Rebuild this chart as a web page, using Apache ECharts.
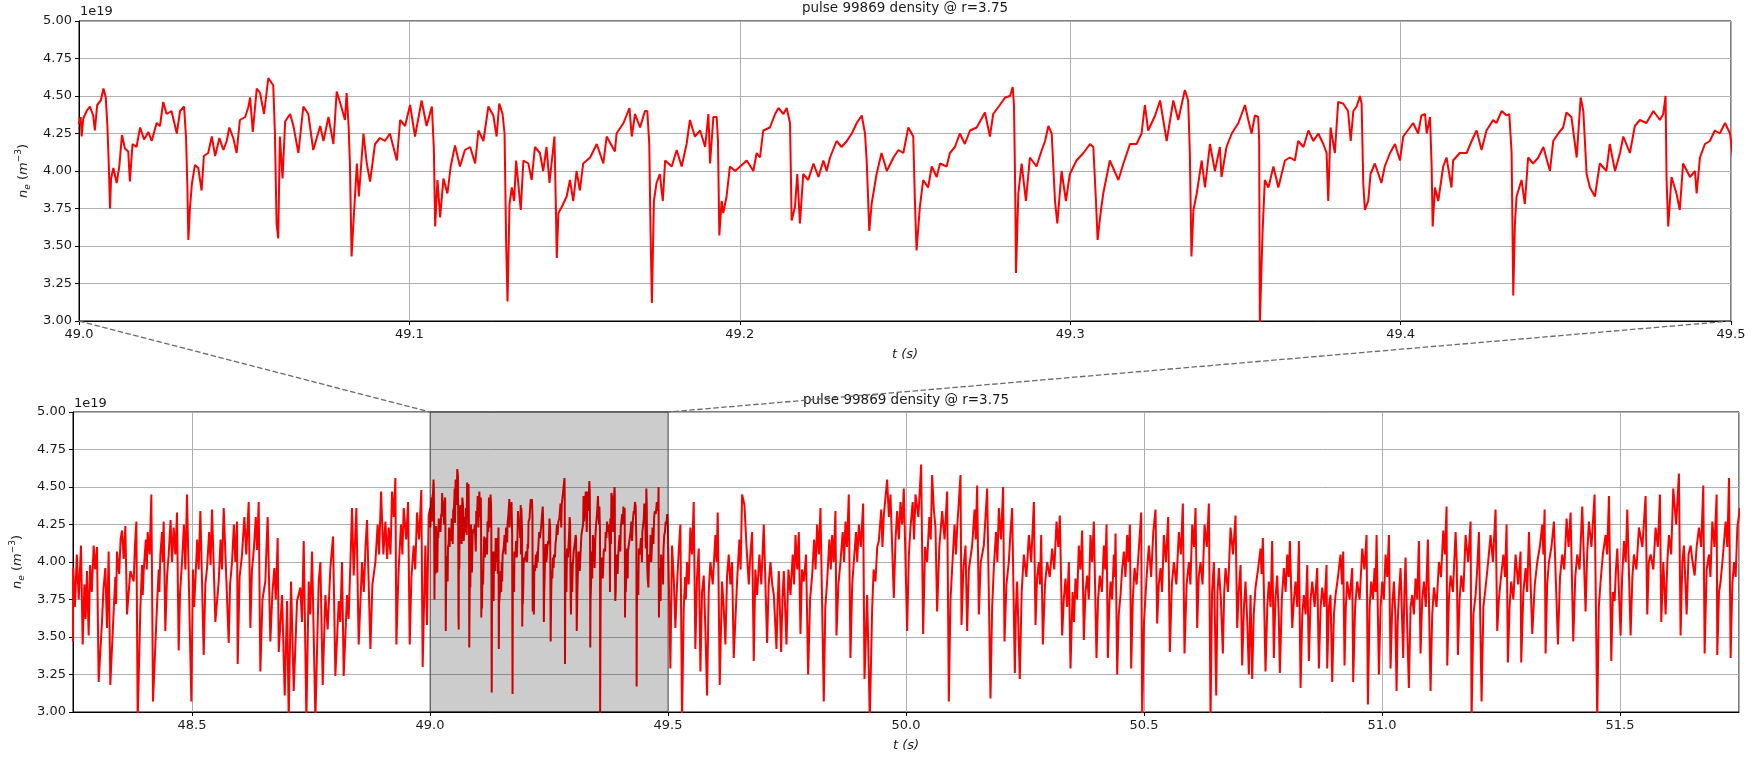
<!DOCTYPE html>
<html><head><meta charset="utf-8">
<script src="https://cdn.jsdelivr.net/npm/echarts@6/dist/echarts.min.js"></script>
<style>html,body{margin:0;padding:0;background:#fff}#c{width:1757px;height:758px}</style>
</head><body><div id="c"></div>
<script>
// ---- data: [t (s), n_e (1e19 m^-3)] ----
const segA = [[48.2501,3.47],[48.2505,3.96],[48.2540,3.70],[48.2580,4.05],[48.2620,3.75],[48.2668,4.11],[48.2703,3.45],[48.2740,3.85],[48.2765,3.62],[48.2794,3.94],[48.2829,3.51],[48.2860,3.98],[48.2895,3.80],[48.2934,4.11],[48.2965,3.95],[48.3004,4.10],[48.3039,3.20],[48.3109,3.60],[48.3140,3.82],[48.3179,3.96],[48.3214,3.56],[48.3249,4.07],[48.3284,3.18],[48.3354,3.67],[48.3390,3.90],[48.3405,3.72],[48.3424,4.07],[48.3470,3.92],[48.3500,4.15],[48.3530,4.21],[48.3565,4.02],[48.3600,4.24],[48.3635,3.65],[48.3705,3.94],[48.3775,3.87],[48.3800,4.10],[48.3831,4.27],[48.3859,2.95],[48.3915,3.69],[48.3950,3.98],[48.3965,3.78],[48.3985,3.94],[48.4030,4.15],[48.4050,3.95],[48.4069,4.20],[48.4110,4.05],[48.4146,4.45],[48.4181,3.07],[48.4265,3.71],[48.4300,3.95],[48.4315,3.80],[48.4335,4.05],[48.4370,4.20],[48.4385,4.00],[48.4405,4.27],[48.4440,3.54],[48.4475,3.90],[48.4510,4.05],[48.4550,4.28],[48.4580,4.00],[48.4615,4.23],[48.4650,4.05],[48.4685,4.33],[48.4720,3.41],[48.4750,3.80],[48.4790,4.00],[48.4830,4.25],[48.4860,3.95],[48.4895,4.45],[48.4986,3.07],[48.5020,3.95],[48.5045,3.70],[48.5070,3.87],[48.5110,4.15],[48.5140,3.95],[48.5176,4.34],[48.5246,3.38],[48.5280,3.85],[48.5316,3.96],[48.5360,4.20],[48.5390,3.98],[48.5421,4.35],[48.5491,3.60],[48.5561,3.87],[48.5600,4.15],[48.5630,3.95],[48.5666,4.36],[48.5771,3.46],[48.5800,3.85],[48.5841,4.00],[48.5880,4.25],[48.5910,4.00],[48.5946,4.27],[48.5960,3.32],[48.6000,3.90],[48.6051,4.05],[48.6100,4.30],[48.6140,4.05],[48.6191,4.40],[48.6226,3.56],[48.6260,3.95],[48.6296,4.07],[48.6340,4.30],[48.6365,4.08],[48.6401,4.40],[48.6436,3.27],[48.6480,3.75],[48.6541,3.87],[48.6565,4.10],[48.6590,4.30],[48.6646,3.47],[48.6690,3.80],[48.6730,3.96],[48.6760,3.75],[48.6800,4.16],[48.6822,3.40],[48.6892,3.78],[48.6948,3.11],[48.6997,3.74],[48.7032,2.95],[48.7081,3.87],[48.7137,3.14],[48.7207,3.74],[48.7277,3.83],[48.7310,3.60],[48.7347,4.14],[48.7403,2.95],[48.7452,3.87],[48.7485,3.65],[48.7522,4.07],[48.7592,2.95],[48.7662,3.87],[48.7697,4.00],[48.7746,3.18],[48.7802,3.78],[48.7850,3.55],[48.7907,3.96],[48.7963,4.17],[48.8012,3.24],[48.8082,3.74],[48.8115,3.60],[48.8152,4.00],[48.8187,3.24],[48.8257,3.78],[48.8290,3.62],[48.8327,3.98],[48.8362,4.36],[48.8397,3.91],[48.8453,4.36],[48.8502,3.45],[48.8572,4.00],[48.8610,3.80],[48.8645,4.10],[48.8677,4.28],[48.8748,3.42],[48.8790,3.85],[48.8853,4.00],[48.8900,4.25],[48.8930,4.05],[48.8972,4.47],[48.9020,4.05],[48.9063,4.27],[48.9100,4.02],[48.9133,4.23],[48.9170,4.05],[48.9203,4.47],[48.9240,4.30],[48.9273,4.56],[48.9294,3.45],[48.9320,3.75],[48.9343,3.96],[48.9390,4.25],[48.9420,4.05],[48.9448,4.36],[48.9500,4.15],[48.9540,4.40],[48.9574,3.45],[48.9610,3.90],[48.9657,4.11],[48.9690,3.95],[48.9727,4.33],[48.9770,4.15],[48.9818,4.48],[48.9846,3.30],[48.9902,4.11],[48.9937,3.58],[48.9972,4.31]];

const segB = [[49.0000,4.32],[49.0005,4.36],[49.0008,4.23],[49.0013,4.35],[49.0023,4.40],[49.0033,4.43],[49.0043,4.37],[49.0048,4.27],[49.0055,4.44],[49.0066,4.47],[49.0074,4.55],[49.0081,4.49],[49.0086,4.30],[49.0090,4.05],[49.0094,3.75],[49.0097,3.95],[49.0104,4.02],[49.0114,3.92],[49.0122,4.03],[49.0130,4.24],[49.0139,4.15],[49.0149,4.13],[49.0154,3.93],[49.0162,4.18],[49.0174,4.16],[49.0185,4.29],[49.0197,4.21],[49.0210,4.26],[49.0220,4.20],[49.0235,4.32],[49.0245,4.30],[49.0255,4.46],[49.0265,4.38],[49.0280,4.40],[49.0296,4.25],[49.0306,4.40],[49.0318,4.43],[49.0324,4.22],[49.0328,3.90],[49.0331,3.54],[49.0336,3.76],[49.0342,3.92],[49.0351,4.04],[49.0361,4.02],[49.0371,3.87],[49.0378,4.10],[49.0391,4.12],[49.0402,4.23],[49.0412,4.10],[49.0425,4.22],[49.0437,4.14],[49.0447,4.20],[49.0455,4.29],[49.0467,4.22],[49.0477,4.12],[49.0487,4.34],[49.0503,4.36],[49.0513,4.43],[49.0518,4.49],[49.0526,4.26],[49.0538,4.55],[49.0548,4.52],[49.0560,4.38],[49.0573,4.62],[49.0588,4.57],[49.0593,4.25],[49.0598,3.65],[49.0603,3.55],[49.0608,4.23],[49.0616,3.95],[49.0624,4.33],[49.0639,4.38],[49.0649,4.30],[49.0664,4.12],[49.0679,4.43],[49.0694,4.38],[49.0709,4.14],[49.0730,4.30],[49.0740,4.20],[49.0755,4.36],[49.0770,4.18],[49.0780,4.53],[49.0795,4.42],[49.0805,4.34],[49.0810,4.52],[49.0816,4.30],[49.0820,4.05],[49.0825,3.43],[49.0830,3.63],[49.0841,4.05],[49.0847,3.83],[49.0861,4.25],[49.0871,4.05],[49.0881,3.93],[49.0896,4.18],[49.0911,4.22],[49.0926,4.20],[49.0941,4.25],[49.0962,4.07],[49.0972,4.34],[49.0987,4.30],[49.1002,4.44],[49.1017,4.23],[49.1037,4.47],[49.1052,4.30],[49.1068,4.43],[49.1074,4.15],[49.1078,3.63],[49.1085,3.94],[49.1093,3.69],[49.1103,3.95],[49.1115,3.85],[49.1125,4.03],[49.1138,4.17],[49.1153,4.03],[49.1168,4.14],[49.1184,4.16],[49.1199,4.05],[49.1209,4.27],[49.1224,4.20],[49.1239,4.43],[49.1254,4.37],[49.1264,4.23],[49.1272,4.45],[49.1282,4.38],[49.1288,4.25],[49.1293,3.50],[49.1297,3.13]];

const segC = [[49.1303,3.78],[49.1310,3.89],[49.1317,3.80],[49.1323,4.07],[49.1337,3.74],[49.1345,4.07],[49.1360,4.05],[49.1370,3.94],[49.1380,4.16],[49.1395,4.12],[49.1405,4.00],[49.1415,4.16],[49.1424,3.92],[49.1439,4.23],[49.1443,3.80],[49.1446,3.42],[49.1451,3.72],[49.1461,3.76],[49.1476,3.83],[49.1486,3.94],[49.1496,3.80],[49.1506,4.00],[49.1516,3.87],[49.1526,4.05],[49.1547,4.09],[49.1567,4.18],[49.1587,4.05],[49.1597,4.23],[49.1622,4.13],[49.1627,4.25],[49.1648,4.32],[49.1666,4.42],[49.1673,4.23],[49.1683,4.38],[49.1698,4.29],[49.1713,4.40],[49.1720,4.40],[49.1726,4.18],[49.1730,3.58],[49.1734,3.12],[49.1740,3.80],[49.1748,3.92],[49.1758,3.98],[49.1767,3.80],[49.1774,4.07],[49.1794,4.03],[49.1809,4.14],[49.1824,4.03],[49.1839,4.18],[49.1849,4.34],[49.1864,4.23],[49.1880,4.27],[49.1895,4.16],[49.1905,4.38],[49.1910,4.05],[49.1920,4.36],[49.1930,4.36],[49.1934,4.20],[49.1938,3.57],[49.1945,3.80],[49.1950,3.72],[49.1960,3.83],[49.1970,4.03],[49.1986,4.00],[49.2001,4.03],[49.2021,4.07],[49.2041,4.00],[49.2051,4.12],[49.2061,4.09],[49.2071,4.27],[49.2091,4.29],[49.2107,4.38],[49.2117,4.42],[49.2132,4.38],[49.2142,4.42],[49.2152,4.32],[49.2157,3.67],[49.2167,3.76],[49.2174,3.98],[49.2182,3.65],[49.2192,3.98],[49.2207,3.94],[49.2223,4.05],[49.2238,3.96],[49.2253,4.07],[49.2263,4.00],[49.2273,4.09],[49.2293,4.20],[49.2308,4.16],[49.2324,4.20],[49.2339,4.25],[49.2354,4.32],[49.2369,4.37],[49.2379,4.25],[49.2384,4.07],[49.2392,3.60],[49.2399,3.78],[49.2414,3.98],[49.2429,4.12],[49.2445,4.00],[49.2465,4.09],[49.2480,4.14],[49.2495,4.12],[49.2510,4.29],[49.2525,4.23]];

const segD = [[49.2530,3.80],[49.2535,3.47],[49.2545,3.76],[49.2555,3.94],[49.2570,3.89],[49.2581,4.03],[49.2596,3.96],[49.2606,4.05],[49.2626,4.03],[49.2636,4.12],[49.2651,4.16],[49.2666,4.25],[49.2681,4.18],[49.2697,4.27],[49.2717,4.29],[49.2742,4.39],[49.2757,4.23],[49.2767,4.38],[49.2787,4.44],[49.2803,4.49],[49.2818,4.50],[49.2826,4.56],[49.2830,4.43],[49.2834,3.80],[49.2836,3.32],[49.2843,3.85],[49.2853,4.05],[49.2866,3.80],[49.2878,4.09],[49.2898,4.03],[49.2914,4.14],[49.2924,4.20],[49.2934,4.30],[49.2944,4.25],[49.2954,3.80],[49.2961,3.65],[49.2974,4.00],[49.2987,3.80],[49.2999,3.98],[49.3019,4.07],[49.3040,4.12],[49.3060,4.18],[49.3070,4.16],[49.3078,3.80],[49.3083,3.54],[49.3092,3.72],[49.3100,3.85],[49.3120,4.07],[49.3146,3.94],[49.3161,4.05],[49.3181,4.18],[49.3201,4.18],[49.3216,4.25],[49.3226,4.44],[49.3236,4.27],[49.3257,4.37],[49.3272,4.47],[49.3292,4.20],[49.3312,4.47],[49.3327,4.34],[49.3347,4.54],[49.3357,4.47],[49.3362,4.14],[49.3367,3.43],[49.3373,3.74],[49.3383,3.85],[49.3398,4.07],[49.3408,3.89],[49.3423,4.18],[49.3438,4.00],[49.3453,4.16],[49.3458,3.96],[49.3473,4.16],[49.3489,4.25],[49.3509,4.32],[49.3519,4.38],[49.3529,4.44],[49.3539,4.34],[49.3549,4.25],[49.3559,4.37],[49.3569,4.36],[49.3572,4.20],[49.3574,2.98],[49.3582,3.58],[49.3589,3.94],[49.3600,3.89],[49.3615,4.03],[49.3630,3.89],[49.3640,3.98],[49.3650,4.07],[49.3665,4.09],[49.3680,4.07],[49.3690,4.20],[49.3706,4.16],[49.3721,4.27],[49.3736,4.20],[49.3751,4.25],[49.3766,4.18],[49.3776,4.12],[49.3781,3.80],[49.3788,4.29],[49.3801,4.12],[49.3811,4.46]];

const segE = [[49.3826,4.45],[49.3841,4.40],[49.3849,4.20],[49.3857,4.40],[49.3867,4.43],[49.3877,4.50],[49.3882,4.45],[49.3887,3.92],[49.3892,3.74],[49.3902,3.80],[49.3909,3.98],[49.3922,4.05],[49.3942,3.92],[49.3952,4.03],[49.3968,4.12],[49.3983,4.18],[49.3998,4.07],[49.4008,4.23],[49.4028,4.29],[49.4038,4.32],[49.4053,4.25],[49.4063,4.37],[49.4074,4.38],[49.4079,4.25],[49.4089,4.36],[49.4094,4.03],[49.4097,3.63],[49.4104,3.89],[49.4114,3.80],[49.4129,4.03],[49.4139,4.09],[49.4154,3.89],[49.4159,4.07],[49.4179,4.12],[49.4200,4.12],[49.4215,4.20],[49.4230,4.27],[49.4245,4.14],[49.4260,4.27],[49.4280,4.34],[49.4290,4.32],[49.4306,4.40],[49.4321,4.37],[49.4329,4.38],[49.4336,4.12],[49.4341,3.17],[49.4346,3.65],[49.4351,3.83],[49.4366,3.94],[49.4376,3.78],[49.4386,4.09],[49.4401,4.05],[49.4417,4.09],[49.4432,4.16],[49.4452,4.00],[49.4462,4.20],[49.4477,4.25],[49.4492,4.29],[49.4502,4.39],[49.4517,4.36],[49.4533,4.09],[49.4545,4.49],[49.4553,4.40],[49.4563,3.98],[49.4573,3.89],[49.4588,3.83],[49.4603,4.05],[49.4623,4.00],[49.4633,4.18],[49.4649,4.00],[49.4664,4.12],[49.4674,4.23],[49.4694,4.12],[49.4709,4.30],[49.4724,4.34],[49.4744,4.32],[49.4765,4.40],[49.4785,4.34],[49.4795,4.38],[49.4802,4.50],[49.4805,3.94],[49.4810,3.63],[49.4820,3.96],[49.4835,3.85],[49.4845,3.74],[49.4855,4.05],[49.4876,3.96],[49.4891,4.00],[49.4896,3.85],[49.4906,4.09],[49.4921,4.18],[49.4936,4.20],[49.4951,4.27],[49.4966,4.25],[49.4982,4.32],[49.4997,4.25]];

const segF = [[49.5050,3.29],[49.5085,4.11],[49.5120,3.90],[49.5155,3.56],[49.5190,3.85],[49.5225,4.07],[49.5260,4.25],[49.5295,2.95],[49.5330,3.69],[49.5360,3.90],[49.5375,3.75],[49.5400,4.00],[49.5435,3.85],[49.5470,4.23],[49.5505,4.05],[49.5540,4.40],[49.5575,3.42],[49.5610,3.90],[49.5646,4.09],[49.5681,3.27],[49.5715,3.80],[49.5751,3.91],[49.5786,3.54],[49.5821,3.11],[49.5855,3.80],[49.5891,4.00],[49.5940,3.85],[49.5996,4.18],[49.6020,4.00],[49.6045,4.33],[49.6087,3.18],[49.6136,3.87],[49.6170,3.70],[49.6206,3.45],[49.6240,3.90],[49.6276,4.05],[49.6310,3.85],[49.6346,4.00],[49.6381,3.36],[49.6451,3.87],[49.6500,4.15],[49.6525,3.95],[49.6557,4.45],[49.6606,4.38],[49.6650,4.10],[49.6697,3.85],[49.6730,4.05],[49.6767,4.20],[49.6802,3.34],[49.6835,3.95],[49.6872,3.78],[49.6920,4.05],[49.6960,3.85],[49.7012,4.25],[49.7082,3.46],[49.7115,3.85],[49.7152,4.00],[49.7190,3.85],[49.7223,3.78],[49.7279,3.42],[49.7300,3.70],[49.7328,3.94],[49.7377,3.40],[49.7405,3.75],[49.7433,3.94],[49.7489,3.45],[49.7530,3.95],[49.7573,3.78],[49.7620,4.05],[49.7650,3.85],[49.7678,4.18],[49.7715,3.95],[49.7748,4.20],[49.7783,3.52],[49.7815,3.95],[49.7853,3.87],[49.7900,4.05],[49.7944,3.25],[49.7985,3.75],[49.8028,3.91],[49.8070,4.15],[49.8100,3.95],[49.8133,4.25],[49.8170,4.05],[49.8203,4.36],[49.8273,3.07],[49.8305,3.70],[49.8343,3.87],[49.8390,4.15],[49.8420,3.95],[49.8448,4.18],[49.8480,4.00],[49.8518,4.34],[49.8539,3.51],[49.8580,3.85],[49.8623,4.00],[49.8670,4.20],[49.8700,4.00],[49.8728,4.27],[49.8760,4.10],[49.8798,4.45],[49.8833,3.36],[49.8870,3.85],[49.8903,4.00],[49.8950,4.20],[49.8975,4.00],[49.9009,4.25],[49.9050,4.10],[49.9100,4.39],[49.9128,3.22],[49.9184,3.78],[49.9240,2.95],[49.9289,3.69],[49.9320,3.95],[49.9359,3.87],[49.9395,4.10],[49.9429,4.14],[49.9480,4.35],[49.9505,4.10],[49.9534,4.31],[49.9604,4.55],[49.9640,4.30],[49.9674,4.45],[49.9744,3.76],[49.9780,4.15],[49.9814,4.34],[49.9850,4.15],[49.9884,4.40],[49.9920,4.25],[49.9954,4.49],[50.0024,3.54],[50.0060,4.05],[50.0094,4.23],[50.0140,4.40],[50.0170,4.15],[50.0199,4.45],[50.0260,4.30],[50.0318,4.65],[50.0360,3.52],[50.0400,4.10],[50.0444,4.00],[50.0490,4.30],[50.0520,4.15],[50.0549,4.58],[50.0585,4.35],[50.0619,4.23],[50.0654,3.67],[50.0700,4.10],[50.0760,4.34],[50.0810,4.15],[50.0865,4.47],[50.0900,3.07],[50.0935,3.75],[50.0970,3.96],[50.1020,4.25],[50.1050,4.05],[50.1075,4.23],[50.1110,4.40],[50.1145,4.58],[50.1166,3.58],[50.1205,3.95],[50.1250,4.11],[50.1285,3.54],[50.1320,3.95],[50.1390,4.11],[50.1440,4.35],[50.1465,4.15],[50.1495,4.51],[50.1530,3.65],[50.1570,4.00],[50.1635,4.11],[50.1670,4.30],[50.1705,4.49],[50.1775,3.09],[50.1810,3.70],[50.1845,3.96],[50.1890,4.20],[50.1920,4.00],[50.1950,4.36],[50.1995,4.15],[50.2041,4.50],[50.2069,3.47],[50.2110,3.85],[50.2160,4.00],[50.2195,4.20],[50.2230,4.36],[50.2287,3.26],[50.2310,3.70],[50.2335,3.87],[50.2391,3.22],[50.2430,3.80],[50.2476,4.05],[50.2530,3.90],[50.2581,4.18],[50.2630,4.00],[50.2686,4.40],[50.2721,3.58],[50.2755,3.90],[50.2791,4.00],[50.2815,3.85],[50.2840,4.18],[50.2875,3.45],[50.2920,3.85],[50.2966,4.00],[50.3020,3.90],[50.3071,4.09],[50.3115,3.95],[50.3162,4.27],[50.3200,4.10],[50.3232,4.31],[50.3281,3.51],[50.3315,3.75],[50.3351,3.89],[50.3385,3.70],[50.3421,4.00],[50.3456,3.29]];

const segG = [[50.3500,3.80],[50.3530,3.60],[50.3561,3.89],[50.3595,3.75],[50.3631,4.11],[50.3665,3.95],[50.3701,4.21],[50.3736,3.48],[50.3770,3.80],[50.3806,3.91],[50.3840,3.75],[50.3876,4.18],[50.3910,4.00],[50.3946,4.27],[50.4002,3.36],[50.4035,3.75],[50.4072,3.91],[50.4115,3.80],[50.4157,4.11],[50.4185,3.95],[50.4213,4.25],[50.4241,3.36],[50.4270,3.70],[50.4297,3.87],[50.4330,3.75],[50.4367,4.05],[50.4385,3.90],[50.4402,4.19],[50.4437,3.25],[50.4470,3.65],[50.4507,3.78],[50.4540,3.95],[50.4577,4.07],[50.4610,3.90],[50.4647,4.18],[50.4675,4.00],[50.4703,4.25],[50.4731,3.29],[50.4765,3.75],[50.4801,3.96],[50.4845,3.85],[50.4892,4.09],[50.4915,4.20],[50.4941,4.33],[50.4962,2.95],[50.5000,3.60],[50.5032,3.78],[50.5065,3.95],[50.5102,4.11],[50.5150,3.90],[50.5195,4.20],[50.5242,4.35],[50.5277,3.59],[50.5310,3.85],[50.5347,3.96],[50.5380,3.80],[50.5417,4.18],[50.5460,4.00],[50.5508,4.30],[50.5543,3.40],[50.5585,3.85],[50.5627,4.00],[50.5680,3.85],[50.5732,4.20],[50.5775,4.05],[50.5816,4.39],[50.5851,3.39],[50.5895,3.85],[50.5943,4.00],[50.5975,3.85],[50.6013,4.25],[50.6050,4.10],[50.6083,4.36],[50.6118,3.56],[50.6150,3.90],[50.6188,4.00],[50.6230,3.85],[50.6272,4.25],[50.6320,4.10],[50.6363,4.39],[50.6398,2.95],[50.6430,3.80],[50.6468,4.00],[50.6517,3.11],[50.6545,3.80],[50.6573,3.96],[50.6615,3.75],[50.6657,3.39],[50.6685,3.80],[50.6713,3.96],[50.6765,3.80],[50.6818,4.23],[50.6870,4.05],[50.6923,4.31],[50.6958,3.56],[50.6990,3.80],[50.7028,3.98],[50.7063,3.31],[50.7100,3.70],[50.7133,3.87],[50.7170,3.60],[50.7203,3.25],[50.7238,3.78],[50.7273,3.22],[50.7305,3.65],[50.7343,3.83],[50.7395,3.95],[50.7448,4.09],[50.7470,3.92],[50.7497,4.16],[50.7553,3.27],[50.7590,3.70],[50.7623,3.87],[50.7660,3.70],[50.7693,4.14],[50.7728,3.36],[50.7760,3.75],[50.7798,3.91],[50.7830,3.65],[50.7855,3.26],[50.7895,3.75],[50.7939,3.96],[50.7975,3.80],[50.8009,4.05],[50.8040,3.90],[50.8065,4.14],[50.8114,3.56],[50.8150,3.75],[50.8184,3.87],[50.8220,3.70],[50.8254,4.14],[50.8289,3.16],[50.8325,3.65],[50.8359,3.78],[50.8395,3.65],[50.8429,3.98],[50.8464,3.34],[50.8500,3.75],[50.8534,3.87],[50.8585,3.70],[50.8639,3.96],[50.8674,3.29],[50.8710,3.70],[50.8744,3.83],[50.8790,3.70],[50.8835,3.98],[50.8849,3.29],[50.8885,3.70],[50.8919,3.78],[50.8954,3.20],[50.8990,3.65],[50.9024,3.78],[50.9075,3.90],[50.9129,4.05],[50.9160,3.85],[50.9185,4.07],[50.9213,3.31],[50.9240,3.70],[50.9269,3.87],[50.9320,3.75],[50.9374,3.96],[50.9395,3.20],[50.9435,3.70],[50.9479,3.87],[50.9530,3.75],[50.9585,4.09],[50.9630,3.95],[50.9676,4.18],[50.9704,3.05],[50.9740,3.70],[50.9774,3.87],[50.9810,3.75],[50.9844,3.96],[50.9865,3.80],[50.9886,4.18],[50.9935,3.25],[50.9970,3.70],[51.0005,3.87],[51.0040,3.75],[51.0075,4.05],[51.0110,3.90],[51.0145,4.18],[51.0180,3.29],[51.0215,3.70],[51.0250,3.87]];

const segH = [[51.0280,3.65],[51.0306,3.14],[51.0330,3.60],[51.0355,3.78],[51.0390,3.96],[51.0446,3.36],[51.0470,3.80],[51.0495,4.03],[51.0530,3.56],[51.0565,3.16],[51.0600,3.70],[51.0635,3.78],[51.0670,3.65],[51.0705,3.89],[51.0740,3.75],[51.0775,4.14],[51.0810,3.39],[51.0845,3.75],[51.0880,3.87],[51.0920,3.70],[51.0964,4.15],[51.1020,3.14],[51.1055,3.65],[51.1091,3.83],[51.1145,3.70],[51.1196,4.00],[51.1240,3.90],[51.1287,4.21],[51.1320,4.05],[51.1357,4.37],[51.1371,3.31],[51.1405,3.75],[51.1441,3.91],[51.1490,3.80],[51.1546,4.20],[51.1570,4.00],[51.1595,3.38],[51.1630,3.75],[51.1665,3.91],[51.1710,3.80],[51.1756,4.18],[51.1810,4.00],[51.1861,4.27],[51.1882,2.95],[51.1920,3.65],[51.1966,3.78],[51.2000,3.95],[51.2036,4.20],[51.2092,3.07],[51.2130,3.70],[51.2176,3.83],[51.2230,4.00],[51.2281,4.18],[51.2330,4.00],[51.2386,4.35],[51.2421,3.54],[51.2455,3.75],[51.2491,3.87],[51.2550,4.05],[51.2585,3.90],[51.2617,4.25],[51.2645,3.33],[51.2680,3.70],[51.2715,3.87],[51.2760,3.75],[51.2806,4.05],[51.2860,3.85],[51.2911,4.07],[51.2925,3.33],[51.2970,3.80],[51.3017,3.96],[51.3050,3.80],[51.3087,4.20],[51.3157,3.52],[51.3210,3.85],[51.3262,4.00],[51.3315,4.10],[51.3367,4.25],[51.3390,4.05],[51.3416,4.35],[51.3437,3.39],[51.3470,3.85],[51.3507,4.00],[51.3560,4.10],[51.3612,4.27],[51.3696,3.45],[51.3740,3.90],[51.3787,4.05],[51.3830,3.95],[51.3878,4.29],[51.3920,4.10],[51.3962,4.33],[51.4018,3.47],[51.4060,3.90],[51.4102,4.05],[51.4150,3.95],[51.4207,4.37],[51.4277,3.67],[51.4310,4.05],[51.4347,4.27],[51.4400,4.10],[51.4466,4.45],[51.4522,2.95],[51.4555,3.70],[51.4592,3.87],[51.4640,4.05],[51.4698,4.18],[51.4730,4.05],[51.4768,4.44],[51.4817,3.34],[51.4850,3.80],[51.4887,3.74],[51.4915,3.95],[51.4943,4.09],[51.5013,3.51],[51.5045,3.90],[51.5083,4.14],[51.5120,4.00],[51.5153,4.35],[51.5223,3.51],[51.5260,3.90],[51.5293,4.05],[51.5345,3.95],[51.5398,4.23],[51.5470,4.10],[51.5538,4.44],[51.5573,3.65],[51.5605,4.00],[51.5643,4.05],[51.5700,3.95],[51.5748,4.23],[51.5795,4.10],[51.5839,4.45],[51.5867,3.60],[51.5910,4.00],[51.5958,3.65],[51.5995,4.00],[51.6028,4.18],[51.6075,4.05],[51.6119,4.49],[51.6180,4.25],[51.6238,4.59],[51.6273,3.51],[51.6310,4.00],[51.6343,4.11],[51.6400,3.65],[51.6440,4.05],[51.6484,4.11],[51.6525,4.00],[51.6568,3.91],[51.6610,4.10],[51.6659,4.23],[51.6705,4.10],[51.6750,4.51],[51.6778,3.39],[51.6820,3.95],[51.6869,4.05],[51.6900,3.90],[51.6939,4.27],[51.6985,4.10],[51.7030,4.45],[51.7044,3.38],[51.7080,3.80],[51.7114,3.87],[51.7165,4.05],[51.7219,4.27],[51.7255,4.10],[51.7290,4.56],[51.7324,3.36],[51.7360,3.85],[51.7395,4.00],[51.7430,3.90],[51.7465,4.23],[51.7520,4.36]];

const density = [].concat(segA, segB, segC, segD, segE, segF, segG, segH);
const titleText = 'pulse 99869 density @ r=3.75';
const zoomRange = [49.0, 49.5];
const fullRange = [48.25, 51.75];
const yRange = [3.0, 5.0];
const yStep = 0.25;
const offsetText = '1e19';

// ---- chart ----
const FONT = 'DejaVu Sans';
const TXT = '#1a1a1a';
const chart = echarts.init(document.getElementById('c'), null, {renderer: 'canvas', width: 1757, height: 758});

function xAxisCfg(gi, extra) {
  return Object.assign({
    type: 'value', gridIndex: gi,
    name: 't (s)', nameLocation: 'middle', nameGap: 27,
    nameTextStyle: {fontFamily: FONT, fontSize: 13, fontStyle: 'italic', color: TXT},
    axisLine: {show: true, onZero: false, lineStyle: {color: '#000', width: 1}},
    axisTick: {show: true, inside: false, length: 4, lineStyle: {color: '#000', width: 1}},
    axisLabel: {fontFamily: FONT, fontSize: 13, color: TXT, margin: 7, formatter: v => v.toFixed(1)},
    splitLine: {show: true, lineStyle: {color: '#b0b0b0', width: 1}}
  }, extra);
}
function yAxisCfg(gi) {
  return {
    type: 'value', gridIndex: gi, min: yRange[0], max: yRange[1], interval: yStep,
    name: '{i|n}{sub|e} ({i|m}{sup|−3})', nameLocation: 'middle', nameRotate: 90, nameGap: 46,
    nameTextStyle: {fontFamily: FONT, fontSize: 13, color: TXT,
      rich: {
        i: {fontFamily: FONT, fontSize: 13, fontStyle: 'italic', color: TXT, lineHeight: 18, verticalAlign: 'middle'},
        sub: {fontFamily: FONT, fontSize: 9, fontStyle: 'italic', color: TXT, lineHeight: 18, verticalAlign: 'bottom'},
        sup: {fontFamily: FONT, fontSize: 9, color: TXT, lineHeight: 18, verticalAlign: 'top'}
      }},
    axisLine: {show: true, onZero: false, lineStyle: {color: '#000', width: 1}},
    axisTick: {show: true, inside: false, length: 4, lineStyle: {color: '#000', width: 1}},
    axisLabel: {fontFamily: FONT, fontSize: 13, color: TXT, margin: 7, formatter: v => v.toFixed(2)},
    splitLine: {show: true, lineStyle: {color: '#b0b0b0', width: 1}}
  };
}

chart.setOption({
  animation: false,
  backgroundColor: '#fff',
  grid: [
    {left: 79, top: 21, right: 26, height: 300, show: true, borderColor: '#000', borderWidth: 1, backgroundColor: 'transparent', containLabel: false},
    {left: 73, top: 412, right: 18, height: 300, show: true, borderColor: '#000', borderWidth: 1, backgroundColor: 'transparent', containLabel: false}
  ],
  xAxis: [
    xAxisCfg(0, {min: zoomRange[0], max: zoomRange[1], interval: 0.1}),
    xAxisCfg(1, {min: fullRange[0], max: fullRange[1], splitNumber: 7,
      axisLabel: {fontFamily: FONT, fontSize: 13, color: TXT, margin: 7, showMinLabel: false, showMaxLabel: false, formatter: v => v.toFixed(1)}})
  ],
  yAxis: [yAxisCfg(0), yAxisCfg(1)],
  series: [
    {type: 'line', xAxisIndex: 0, yAxisIndex: 0, data: density, symbol: 'none', showSymbol: false, clip: true,
     lineStyle: {color: '#ff0000', width: 2}, z: 3},
    {type: 'line', xAxisIndex: 1, yAxisIndex: 1, data: density, symbol: 'none', showSymbol: false, clip: true,
     lineStyle: {color: '#ff0000', width: 2}, z: 3}
  ]
});

const p = (i, pt) => chart.convertToPixel({xAxisIndex: i, yAxisIndex: i}, pt);
const tTL = p(0, [zoomRange[0], yRange[1]]), tTR = p(0, [zoomRange[1], yRange[1]]);
const tBL = p(0, [zoomRange[0], yRange[0]]), tBR = p(0, [zoomRange[1], yRange[0]]);
const bTL = p(1, [fullRange[0], yRange[1]]), bTR = p(1, [fullRange[1], yRange[1]]);
const rTL = p(1, [zoomRange[0], yRange[1]]), rTR = p(1, [zoomRange[1], yRange[1]]);
const rBL = p(1, [zoomRange[0], yRange[0]]);

chart.setOption({
  graphic: [
    {type: 'rect', z: 50, silent: true,
     shape: {x: rTL[0], y: rTL[1], width: rTR[0] - rTL[0], height: rBL[1] - rTL[1]},
     style: {fill: 'rgba(0,0,0,0.2)', stroke: 'rgba(0,0,0,0.5)', lineWidth: 1}},
    {type: 'line', z: 50, silent: true,
     shape: {x1: tBL[0], y1: tBL[1], x2: rTL[0], y2: rTL[1]},
     style: {stroke: '#6a6a6a', lineWidth: 1.3, lineDash: [5.5, 2.5]}},
    {type: 'line', z: 50, silent: true,
     shape: {x1: tBR[0], y1: tBR[1], x2: rTR[0], y2: rTR[1]},
     style: {stroke: '#6a6a6a', lineWidth: 1.3, lineDash: [5.5, 2.5]}},
    {type: 'text', z: 40, silent: true, x: (tTL[0] + tTR[0]) / 2, y: tTL[1] - 13,
     style: {text: titleText, fontFamily: FONT, fontSize: 13.5, fill: TXT, align: 'center', verticalAlign: 'middle'}},
    {type: 'text', z: 40, silent: true, x: (bTL[0] + bTR[0]) / 2, y: bTL[1] - 12,
     style: {text: titleText, fontFamily: FONT, fontSize: 13.5, fill: TXT, align: 'center', verticalAlign: 'middle'}},
    {type: 'text', z: 40, silent: true, x: tTL[0] + 1, y: tTL[1] - 9,
     style: {text: offsetText, fontFamily: FONT, fontSize: 13, fill: TXT, align: 'left', verticalAlign: 'middle'}},
    {type: 'text', z: 40, silent: true, x: bTL[0] + 1, y: bTL[1] - 8,
     style: {text: offsetText, fontFamily: FONT, fontSize: 13, fill: TXT, align: 'left', verticalAlign: 'middle'}}
  ]
});
</script></body></html>
